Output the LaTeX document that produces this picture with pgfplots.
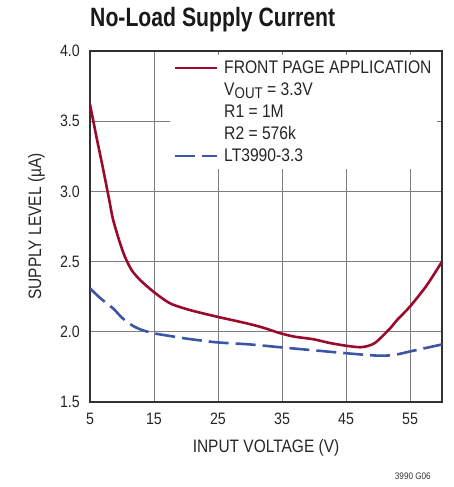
\documentclass[border=0pt]{standalone}
\usepackage{pgfplots}
\pgfplotsset{compat=1.18}
\usepackage{fontspec}
\setmainfont{Liberation Sans}[FakeStretch=0.86]
\newfontfamily\titlefont{Liberation Sans}[FakeStretch=0.8]
\definecolor{cred}{RGB}{155,10,45}
\definecolor{cblue}{RGB}{60,85,165}
\definecolor{cgrid}{RGB}{125,125,125}
\definecolor{cframe}{RGB}{50,50,50}
\begin{document}
\begin{tikzpicture}
\useasboundingbox (0,0) rectangle (454pt,487pt);
\begin{axis}[
  at={(90pt,85pt)}, anchor=south west,
  scale only axis, width=352pt, height=351pt,
  xmin=5, xmax=60, ymin=1.5, ymax=4.0,
  xtick={5,15,25,35,45,55},
  ytick={1.5,2.0,2.5,3.0,3.5,4.0},
  grid=major,
  major grid style={draw=cgrid, line width=0.9pt},
  axis line style={draw=cframe, line width=1.6pt},
  major tick length=0pt,
  /pgf/number format/assume math mode=true,
  yticklabel={\pgfmathprintnumber[fixed,fixed zerofill,precision=1]{\tick}},
  tick label style={font=\fontsize{16.5}{18}\selectfont, text=black!85},
  yticklabel style={inner sep=0pt, xshift=-10pt},
  xticklabel style={inner sep=0pt, yshift=-11pt},
  xlabel={INPUT VOLTAGE (V)},
  ylabel={SUPPLY LEVEL (µA)},
  label style={font=\fontsize{18}{20}\selectfont, text=black!85},
  xlabel style={at={(axis description cs:0.5,0)}, anchor=base, yshift=-50pt, inner sep=0pt},
  ylabel style={at={(axis description cs:-0.139,0.5)}, anchor=base, rotate=0, inner sep=0pt},
  legend style={at={(0.227,0.989)}, anchor=north west, draw=none, fill=white,
    font=\fontsize{18.2}{20}\selectfont, text=black!85,
    inner xsep=4pt, inner ysep=2pt, row sep=0pt, column sep=4pt,
    nodes={text height=14.5pt, text depth=4.5pt, inner sep=1.5pt}},
  legend cell align=left,
  legend image code/.code={\draw[#1] (0pt,0pt) -- (42pt,0pt);},
]
\addplot[cred, line width=2.6pt, smooth, tension=0.45] coordinates {
(5,3.62)(6,3.39)(7,3.17)(8,2.94)(8.6,2.80)(9.7,2.63)(10.5,2.53)(11.5,2.44)(12.8,2.37)(14.9,2.286)(17.5,2.203)(20.6,2.155)(24.8,2.108)(29.5,2.06)(32,2.03)(34.7,1.99)(37,1.965)(39.9,1.947)(42.5,1.92)(45.1,1.90)(47.2,1.89)(48.5,1.90)(49.5,1.92)(50.5,1.96)(52,2.03)(53,2.085)(55,2.18)(57.6,2.33)(60,2.50)
};
\addlegendentry{FRONT PAGE APPLICATION}
\addlegendimage{empty legend}
\addlegendentry{V\raisebox{-0.18em}{\fontsize{15.5}{15.5}\selectfont OUT} = 3.3V}
\addlegendimage{empty legend}
\addlegendentry{R1 = 1M}
\addlegendimage{empty legend}
\addlegendentry{R2 = 576k}
\addplot[cblue, line width=2.6pt, smooth, tension=0.5, dash pattern=on 20pt off 7pt] coordinates {
(5,2.31)(6.6,2.24)(8.6,2.167)(10,2.10)(11.5,2.048)(13,2.015)(14.9,1.99)(17.5,1.97)(20,1.952)(24.8,1.925)(30,1.91)(34.7,1.89)(40,1.868)(45.1,1.847)(48,1.836)(50.3,1.83)(52.5,1.835)(55,1.86)(57.5,1.885)(60,1.91)
};
\addlegendentry{LT3990-3.3}
\end{axis}
\node[anchor=base west, inner sep=0pt, font=\titlefont\bfseries\fontsize{26.5}{28}\selectfont, text=black!90] at (90pt,460pt) {No-Load Supply Current};
\node[anchor=base east, inner sep=0pt, font=\fontsize{9.5}{10}\selectfont, text=black!80] at (431pt,7pt) {3990 G06};
\end{tikzpicture}
\end{document}
